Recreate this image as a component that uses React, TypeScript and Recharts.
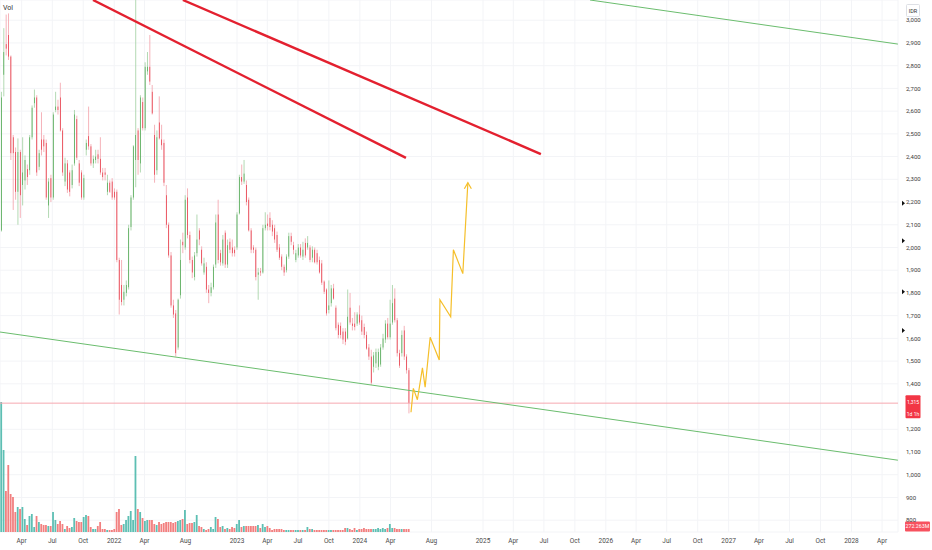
import React from 'react';
import {
  ComposedChart,
  Bar,
  Line,
  XAxis,
  YAxis,
  CartesianGrid,
  ReferenceLine,
  ReferenceDot,
} from 'recharts';

// weekly candles, x = days since 2021-01-01
const FIRST_DAY = 30;
const WEEK = 7;
const X_MIN = 25.6;
const X_MAX = 2694.3;
const Y_MIN = 748;
const Y_MAX = 3089;
const VOL_MAX = 47880; // millions
const LAST_PRICE = 1315;

const opens = [
  2075, 2760, 2895, 2935, 2840, 2485, 2420, 2245, 2420, 2275,
  2295, 2345, 2340, 2485, 2635, 2660, 2355, 2475, 2475, 2460,
  2185, 2305, 2220, 2605, 2620, 2660, 2515, 2290, 2370, 2330,
  2275, 2370, 2565, 2370, 2330, 2220, 2430, 2490, 2445, 2370,
  2385, 2410, 2390, 2330, 2330, 2245, 2285, 2290, 2245, 2245,
  1945, 1835, 1770, 1800, 1825, 2090, 2220, 2385, 2515, 2370,
  2640, 2525, 2775, 2795, 2685, 2495, 2340, 2550, 2475, 2460,
  2230, 2100, 1965, 1745, 1710, 1560, 1790, 2025, 2000, 2220,
  2055, 1945, 1870, 1975, 2075, 1990, 1890, 1915, 1815, 1800,
  1825, 1925, 2145, 1975, 1930, 2065, 1925, 2025, 2000, 1990,
  2000, 2150, 2310, 2290, 2275, 2210, 2075, 2000, 1990, 1880,
  1895, 1890, 2085, 2105, 2130, 2100, 2085, 2055, 2000, 1960,
  1915, 1900, 1960, 2050, 2010, 1945, 1965, 2000, 1960, 2020,
  2000, 2000, 1955, 1990, 1975, 1945, 1930, 1850, 1815, 1725,
  1755, 1820, 1735, 1660, 1655, 1630, 1630, 1600, 1735, 1665,
  1665, 1665, 1705, 1680, 1650, 1615, 1560, 1520, 1475, 1490,
  1475, 1485, 1560, 1595, 1665, 1605, 1670, 1775, 1680, 1535,
  1535, 1635, 1520, 1460,
];

const highs = [
  2685, 2965, 3025, 3030, 2845, 2495, 2440, 2480, 2430, 2485,
  2405, 2365, 2495, 2625, 2695, 2670, 2430, 2595, 2495, 2475,
  2305, 2320, 2595, 2685, 2650, 2725, 2525, 2395, 2385, 2340,
  2365, 2605, 2580, 2385, 2340, 2320, 2475, 2620, 2455, 2405,
  2430, 2430, 2485, 2350, 2350, 2320, 2295, 2305, 2260, 2255,
  1955, 1945, 1835, 1855, 2100, 2230, 2450, 3250, 2525, 2670,
  2660, 2815, 2860, 2935, 2715, 2540, 2515, 2665, 2540, 2475,
  2275, 2110, 1980, 1770, 1725, 1775, 2035, 2065, 2230, 2260,
  2070, 1960, 1980, 2145, 2085, 2005, 1955, 1935, 1835, 1845,
  1925, 2145, 2210, 1990, 2055, 2075, 2035, 2040, 2035, 2005,
  2155, 2320, 2365, 2385, 2295, 2220, 2085, 2010, 2000, 1910,
  1910, 2100, 2155, 2145, 2155, 2120, 2100, 2070, 2015, 1970,
  1925, 1970, 2065, 2065, 2025, 1990, 2015, 2015, 2025, 2040,
  2050, 2010, 2005, 2000, 1990, 1960, 1945, 1855, 1820, 1855,
  1835, 1840, 1745, 1670, 1670, 1645, 1645, 1815, 1800, 1690,
  1715, 1715, 1745, 1700, 1665, 1630, 1575, 1550, 1540, 1555,
  1555, 1575, 1620, 1680, 1690, 1770, 1835, 1820, 1690, 1550,
  1635, 1655, 1530, 1470,
];

const lows = [
  2070, 2665, 2845, 2825, 2385, 2165, 2210, 2100, 2130, 2185,
  2255, 2275, 2320, 2475, 2615, 2315, 2340, 2405, 2420, 2210,
  2130, 2200, 2210, 2595, 2585, 2510, 2315, 2270, 2240, 2225,
  2260, 2360, 2385, 2270, 2210, 2210, 2405, 2430, 2360, 2350,
  2370, 2370, 2320, 2295, 2295, 2230, 2240, 2210, 2210, 1935,
  1705, 1745, 1745, 1785, 1815, 2075, 2210, 2265, 2320, 2330,
  2515, 2515, 2760, 2715, 2585, 2285, 2320, 2475, 2430, 2270,
  2085, 1955, 1735, 1690, 1520, 1550, 1775, 1975, 1990, 2040,
  1930, 1865, 1855, 1960, 2010, 1920, 1880, 1800, 1755, 1785,
  1815, 1910, 1930, 1920, 1920, 1910, 1910, 1975, 1960, 1960,
  1990, 2145, 2275, 2280, 2185, 2070, 1975, 1975, 1855, 1770,
  1875, 1885, 2075, 2075, 2075, 2050, 2020, 1980, 1945, 1900,
  1875, 1890, 1950, 2010, 1970, 1935, 1955, 1955, 1945, 1955,
  1990, 1935, 1935, 1930, 1925, 1885, 1835, 1795, 1700, 1710,
  1740, 1770, 1635, 1600, 1600, 1575, 1570, 1595, 1660, 1635,
  1635, 1655, 1660, 1615, 1600, 1550, 1505, 1395, 1450, 1470,
  1460, 1475, 1550, 1580, 1595, 1595, 1660, 1670, 1520, 1470,
  1520, 1505, 1445, 1270,
];

const closes = [
  2660, 2860, 2875, 2840, 2415, 2415, 2245, 2420, 2230, 2330,
  2385, 2310, 2485, 2615, 2660, 2330, 2415, 2430, 2445, 2220,
  2290, 2220, 2585, 2620, 2605, 2515, 2330, 2370, 2255, 2245,
  2340, 2585, 2395, 2285, 2220, 2305, 2460, 2445, 2370, 2390,
  2400, 2390, 2330, 2310, 2320, 2285, 2245, 2220, 2220, 1945,
  1770, 1760, 1805, 1835, 2085, 2220, 2445, 2495, 2385, 2660,
  2525, 2795, 2795, 2730, 2590, 2320, 2485, 2480, 2450, 2285,
  2100, 1965, 1745, 1705, 1535, 1770, 1945, 2010, 2210, 2055,
  1945, 1890, 1965, 2035, 2035, 1930, 1930, 1815, 1800, 1825,
  1915, 2110, 1945, 1935, 2035, 1925, 2010, 1990, 1975, 1975,
  2145, 2310, 2290, 2325, 2200, 2075, 1990, 1990, 1870, 1890,
  1890, 2085, 2100, 2095, 2090, 2070, 2035, 1990, 1955, 1915,
  1890, 1960, 2050, 2025, 1990, 1975, 2000, 1965, 1990, 1965,
  2020, 1945, 1990, 1935, 1935, 1890, 1845, 1805, 1710, 1745,
  1820, 1775, 1645, 1615, 1615, 1595, 1585, 1695, 1670, 1655,
  1650, 1705, 1670, 1630, 1615, 1555, 1520, 1405, 1525, 1540,
  1540, 1560, 1600, 1665, 1605, 1665, 1755, 1680, 1535, 1480,
  1615, 1520, 1460, 1315,
];

// volume in millions of shares
const volumes = [
  11700, 7380, 3690, 6030, 3420, 3150, 1800, 2250, 2070, 2250,
  1170, 630, 1440, 1620, 450, 1440, 900, 720, 630, 630,
  540, 540, 1800, 1080, 720, 990, 720, 270, 540, 360,
  450, 1260, 990, 900, 900, 1350, 1530, 1440, 450, 270,
  270, 540, 900, 270, 270, 180, 180, 180, 270, 1800,
  2070, 630, 720, 1080, 1440, 1890, 1080, 6840, 2070, 1800,
  1260, 990, 1080, 1080, 1080, 720, 630, 900, 720, 810,
  900, 900, 900, 810, 900, 990, 1080, 1170, 1980, 720,
  810, 810, 900, 1530, 540, 450, 270, 180, 270, 450,
  270, 1350, 1170, 450, 540, 270, 360, 270, 450, 360,
  720, 1080, 450, 540, 540, 540, 540, 540, 540, 630,
  360, 720, 450, 540, 360, 180, 270, 270, 270, 270,
  180, 180, 180, 180, 180, 180, 180, 180, 180, 180,
  450, 270, 270, 180, 180, 180, 180, 180, 180, 180,
  180, 180, 180, 180, 180, 180, 360, 360, 270, 180,
  360, 180, 270, 270, 360, 270, 270, 270, 270, 270,
  360, 270, 360, 270, 360, 720, 360, 360, 270, 270,
  270, 270, 270, 272.263,
];

// 1,300 sits under the last-price tag, so it is not labelled
const priceTicks = [
  800, 900, 1000, 1100, 1200, 1400, 1500, 1600, 1700, 1800,
  1900, 2000, 2100, 2200, 2300, 2400, 2500, 2600, 2700, 2800, 2900, 3000,
];

const timeTickDays = [
  90, 181, 273, 365, 455, 577, 730, 820, 911, 1003, 1095, 1186, 1308,
  1461, 1551, 1642, 1734, 1826, 1916, 2007, 2099, 2191, 2281, 2372, 2464,
  2556, 2647,
];
const timeTickLabels = [
  'Apr', 'Jul', 'Oct', '2022', 'Apr', 'Aug', '2023', 'Apr', 'Jul', 'Oct', '2024', 'Apr', 'Aug',
  '2025', 'Apr', 'Jul', 'Oct', '2026', 'Apr', 'Jul', 'Oct', '2027', 'Apr', 'Jul', 'Oct',
  '2028', 'Apr',
];

// drawings
const redLineA = [{ day: 302, price: 3089 }, { day: 1232, price: 2394 }];
const redLineB = [{ day: 569, price: 3089 }, { day: 1633, price: 2411 }];
const greenLineTop = [{ day: 1779, price: 3089 }, { day: 2694, price: 2895 }];
const greenLineBottom = [{ day: 25.6, price: 1628 }, { day: 2694, price: 1064 }];

const projectionDays = [1247, 1254, 1266, 1281, 1289, 1304, 1331, 1333, 1365, 1373, 1401, 1416];
const projectionPrices = [1275, 1380, 1330, 1470, 1385, 1605, 1505, 1770, 1695, 1990, 1885, 2285];

const alertPrices = [2195, 2030, 1805, 1635];

const UP = '#3f9f43';
const DOWN = '#e3202f';
const UP_WICK = '#9fcfa0';
const DOWN_WICK = '#f3a0a8';
const VOL_UP = '#5dbfb3';
const VOL_DOWN = '#f27f7f';
const FONT = 'Roboto, "Liberation Sans", Arial, sans-serif';

const candles = opens.map((open, i) => ({
  day: FIRST_DAY + i * WEEK,
  open,
  high: highs[i],
  low: lows[i],
  close: closes[i],
  vol: volumes[i],
}));

const projection = projectionDays.map((day, i) => ({ day, price: projectionPrices[i] }));

function Candle(props: any) {
  const { x, y, width, height, payload } = props;
  if (!payload || height == null || isNaN(y)) return <g />;
  const { open, close, high, low } = payload;
  const up = close >= open;
  const perPrice = height / (high - low);
  const yOf = (p: number) => y + (high - p) * perPrice;
  const top = yOf(Math.max(open, close));
  const bottom = yOf(Math.min(open, close));
  const cx = x + width / 2;
  return (
    <g>
      <line x1={cx} x2={cx} y1={y} y2={y + height} stroke={up ? UP_WICK : DOWN_WICK} strokeWidth={0.8} />
      <rect x={x} y={top} width={width} height={Math.max(bottom - top, 1)} fill={up ? UP : DOWN} />
    </g>
  );
}

function VolumeBar(props: any) {
  const { x, y, width, height, payload } = props;
  if (!payload || !height) return <g />;
  const up = payload.close >= payload.open;
  return <rect x={x} y={y} width={width} height={height} fill={up ? VOL_UP : VOL_DOWN} />;
}

function ArrowDot(props: any) {
  const { cx, cy, index } = props;
  if (index !== projection.length - 1) return <g key={index} />;
  return (
    <path
      key={index}
      d={`M${cx - 3.5},${cy + 6} L${cx},${cy} L${cx + 3.5},${cy + 6}`}
      stroke="#f5bf2a"
      strokeWidth={1.2}
      fill="none"
    />
  );
}

export default function App() {
  return (
    <div style={{ position: 'absolute', left: 0, top: 0, width: 932, height: 550, background: '#fff', fontFamily: FONT }}>
      <div style={{ position: 'absolute', left: 3, top: 4, fontSize: 7, color: '#333', zIndex: 2 }}>Vol</div>
      <ComposedChart width={932} height={550} data={candles} margin={{ top: 0, right: 0, bottom: 0, left: 0 }}>
        <CartesianGrid xAxisId="main" yAxisId="price" stroke="#f3f4f7" strokeWidth={1} />
        <XAxis
          xAxisId="main"
          dataKey="day"
          type="number"
          scale="linear"
          domain={[X_MIN, X_MAX]}
          allowDataOverflow
          ticks={timeTickDays}
          interval={0}
          tickFormatter={(v) => timeTickLabels[timeTickDays.indexOf(v)] ?? ''}
          height={18}
          axisLine={false}
          tickLine={false}
          tickSize={5}
          tickMargin={1}
          tick={{ fontSize: 6.5, fill: '#4a4a4a', fontFamily: FONT }}
        />
        <XAxis xAxisId="vol" dataKey="day" type="number" scale="linear" domain={[X_MIN, X_MAX]} allowDataOverflow hide />
        <YAxis
          yAxisId="price"
          orientation="right"
          width={34}
          type="number"
          domain={[Y_MIN, Y_MAX]}
          allowDataOverflow
          ticks={priceTicks}
          interval={0}
          tickFormatter={(v) => v.toLocaleString('en-US')}
          axisLine={false}
          tickLine={false}
          tickSize={5}
          tickMargin={3}
          tick={{ fontSize: 6, fill: '#3b3b3b', fontFamily: FONT }}
        />
        <YAxis yAxisId="vol" hide type="number" domain={[0, VOL_MAX]} allowDataOverflow />

        <Bar xAxisId="vol" yAxisId="vol" dataKey="vol" barSize={1.8} shape={VolumeBar} isAnimationActive={false} />
        <Bar
          xAxisId="main"
          yAxisId="price"
          dataKey={(d: any) => [d.low, d.high]}
          barSize={2}
          shape={Candle}
          isAnimationActive={false}
        />

        <ReferenceLine xAxisId="main" yAxisId="price" y={LAST_PRICE} stroke="#f6a9b0" strokeWidth={1} />
        <ReferenceLine
          xAxisId="main"
          yAxisId="price"
          segment={[{ x: greenLineBottom[0].day, y: greenLineBottom[0].price }, { x: greenLineBottom[1].day, y: greenLineBottom[1].price }]}
          stroke="#6bbd6e"
          strokeWidth={1}
          ifOverflow="hidden"
        />
        <ReferenceLine
          xAxisId="main"
          yAxisId="price"
          segment={[{ x: greenLineTop[0].day, y: greenLineTop[0].price }, { x: greenLineTop[1].day, y: greenLineTop[1].price }]}
          stroke="#6bbd6e"
          strokeWidth={1}
          ifOverflow="hidden"
        />
        <ReferenceLine
          xAxisId="main"
          yAxisId="price"
          segment={[{ x: redLineA[0].day, y: redLineA[0].price }, { x: redLineA[1].day, y: redLineA[1].price }]}
          stroke={DOWN}
          strokeWidth={2.4}
          ifOverflow="hidden"
        />
        <ReferenceLine
          xAxisId="main"
          yAxisId="price"
          segment={[{ x: redLineB[0].day, y: redLineB[0].price }, { x: redLineB[1].day, y: redLineB[1].price }]}
          stroke={DOWN}
          strokeWidth={2.4}
          ifOverflow="hidden"
        />

        <Line
          xAxisId="main"
          yAxisId="price"
          data={projection}
          dataKey="price"
          type="linear"
          stroke="#f5bf2a"
          strokeWidth={1.2}
          dot={ArrowDot}
          activeDot={false}
          isAnimationActive={false}
        />

        {alertPrices.map((p) => (
          <ReferenceDot
            key={p}
            xAxisId="main"
            yAxisId="price"
            x={X_MAX}
            y={p}
            r={0}
            ifOverflow="visible"
            shape={(s: any) => (
              <path d={`M${s.cx + 4},${s.cy - 2.5} L${s.cx + 7},${s.cy} L${s.cx + 4},${s.cy + 2.5} Z`} fill="#111" />
            )}
          />
        ))}

        <ReferenceDot
          xAxisId="main"
          yAxisId="price"
          x={X_MAX}
          y={Y_MAX}
          r={0}
          ifOverflow="visible"
          shape={(s: any) => (
            <g>
              <rect x={s.cx + 8.5} y={s.cy + 4.5} width={13} height={12} fill="#fff" stroke="#d6d8de" strokeWidth={0.8} rx={1} />
              <text x={s.cx + 15} y={s.cy + 12.5} fontSize={5.5} textAnchor="middle" fill="#333" fontFamily={FONT}>IDR</text>
            </g>
          )}
        />
        <ReferenceDot
          xAxisId="main"
          yAxisId="price"
          x={X_MAX}
          y={LAST_PRICE}
          r={0}
          ifOverflow="visible"
          shape={(s: any) => (
            <g>
              <rect x={s.cx + 7.5} y={s.cy - 8} width={15} height={23} fill="#f23645" rx={1} />
              <text x={s.cx + 15} y={s.cy + 1} fontSize={5} textAnchor="middle" fill="#fff" fontFamily={FONT}>
                {LAST_PRICE.toLocaleString('en-US')}
              </text>
              <text x={s.cx + 15} y={s.cy + 12.5} fontSize={5} textAnchor="middle" fill="#fff" fontFamily={FONT}>1d 1h</text>
            </g>
          )}
        />
        <ReferenceDot
          xAxisId="vol"
          yAxisId="vol"
          x={X_MAX}
          y={volumes[volumes.length - 1]}
          r={0}
          ifOverflow="visible"
          shape={(s: any) => (
            <g>
              <rect x={s.cx + 7} y={s.cy - 7.5} width={25} height={10} fill="#f7525f" rx={1} />
              <text x={s.cx + 19.5} y={s.cy - 0.5} fontSize={5.3} textAnchor="middle" fill="#fff" fontFamily={FONT}>
                {volumes[volumes.length - 1].toFixed(3)}M
              </text>
            </g>
          )}
        />
      </ComposedChart>
    </div>
  );
}
